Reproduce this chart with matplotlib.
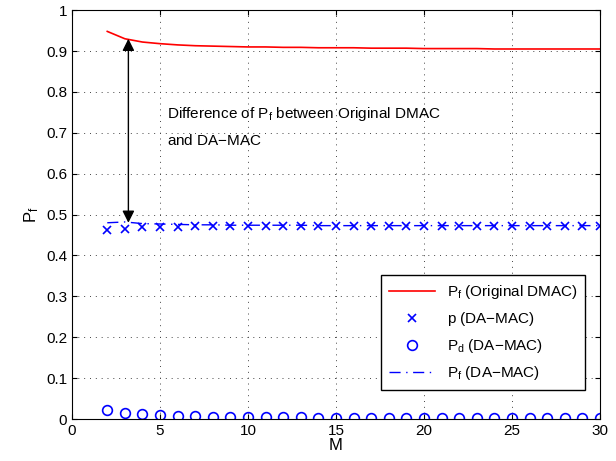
import matplotlib
matplotlib.use("Agg")
import matplotlib.pyplot as plt
import numpy as np

plt.rcParams['font.family'] = ['Liberation Sans', 'DejaVu Sans']
plt.rcParams['mathtext.fontset'] = 'custom'
plt.rcParams['mathtext.rm'] = 'Liberation Sans'
plt.rcParams['mathtext.it'] = 'Liberation Sans:italic'
plt.rcParams['mathtext.bf'] = 'Liberation Sans:bold'

M = list(range(2, 31))
pf_orig = [0.948, 0.930, 0.922, 0.918, 0.915, 0.913, 0.912, 0.911, 0.910, 0.910,
           0.909, 0.909, 0.908, 0.908, 0.908, 0.907, 0.907, 0.907, 0.906, 0.906,
           0.906, 0.906, 0.905, 0.905, 0.905, 0.905, 0.905, 0.905, 0.905]
p_damac = [0.462, 0.465, 0.470, 0.470, 0.470, 0.471, 0.471, 0.471, 0.471, 0.471,
           0.471, 0.471, 0.471, 0.471, 0.471, 0.471, 0.471, 0.471, 0.471, 0.471,
           0.471, 0.471, 0.471, 0.471, 0.471, 0.471, 0.471, 0.471, 0.471]
pd_damac = [0.022, 0.016, 0.012, 0.009, 0.008, 0.007, 0.006, 0.005, 0.005, 0.004,
            0.004, 0.004, 0.003, 0.003, 0.003, 0.003, 0.003, 0.003, 0.002, 0.002,
            0.002, 0.002, 0.002, 0.002, 0.002, 0.002, 0.002, 0.002, 0.002]
pf_damac = [0.480, 0.482, 0.478, 0.477, 0.476, 0.475, 0.475, 0.474, 0.474, 0.474,
            0.474, 0.474, 0.473, 0.473, 0.473, 0.473, 0.473, 0.473, 0.473, 0.473,
            0.473, 0.473, 0.473, 0.473, 0.473, 0.473, 0.473, 0.473, 0.473]

fig = plt.figure(figsize=(6.16, 4.61), dpi=100)
ax = fig.add_axes([0.117, 0.091, 0.857, 0.887])

ax.plot(M, pf_orig, color='red', lw=1.2, label=r'P$_\mathrm{f}$ (Original DMAC)')
ax.plot(M, p_damac, 'x', color='blue', ms=6, mew=1.2, label='p (DA$-$MAC)')
ax.plot(M, pd_damac, 'o', color='blue', mfc='none', ms=7, mew=1.2,
        label=r'P$_\mathrm{d}$ (DA$-$MAC)')
ax.plot(M, pf_damac, color='blue', lw=1.0, linestyle=(0, (8, 4, 1, 4)),
        label=r'P$_\mathrm{f}$ (DA$-$MAC)')

ax.annotate('', xy=(3.2, 0.93), xytext=(3.2, 0.48),
            arrowprops=dict(arrowstyle='<|-|>', color='black', lw=1.0,
                            mutation_scale=18, shrinkA=0, shrinkB=0))
ax.text(5.4, 0.745, r'Difference of P$_\mathrm{f}$ between Original DMAC',
        fontsize=11, va='center')
ax.text(5.4, 0.68, 'and DA$-$MAC', fontsize=11, va='center')

ax.set_xlim(0, 30)
ax.set_ylim(0, 1)
ax.set_xticks([0, 5, 10, 15, 20, 25, 30])
ax.set_yticks(np.arange(0, 1.01, 0.1))
ax.set_yticklabels(['0', '0.1', '0.2', '0.3', '0.4', '0.5', '0.6', '0.7', '0.8', '0.9', '1'])
ax.tick_params(direction='in', top=True, right=True, labelsize=11)
ax.grid(True, linestyle=(0, (1, 5)), color='#444444', lw=0.7)
ax.set_xlabel('M', fontsize=12, labelpad=0)
ax.set_ylabel(r'P$_\mathrm{f}$', fontsize=12)

leg = ax.legend(loc='lower right', bbox_to_anchor=(0.972, 0.071), fontsize=11,
                fancybox=False, edgecolor='black', framealpha=1,
                borderpad=0.5, labelspacing=0.6, handlelength=3.0,
                borderaxespad=0)
leg.get_frame().set_linewidth(1.0)

fig.savefig('out.png', dpi=100)
